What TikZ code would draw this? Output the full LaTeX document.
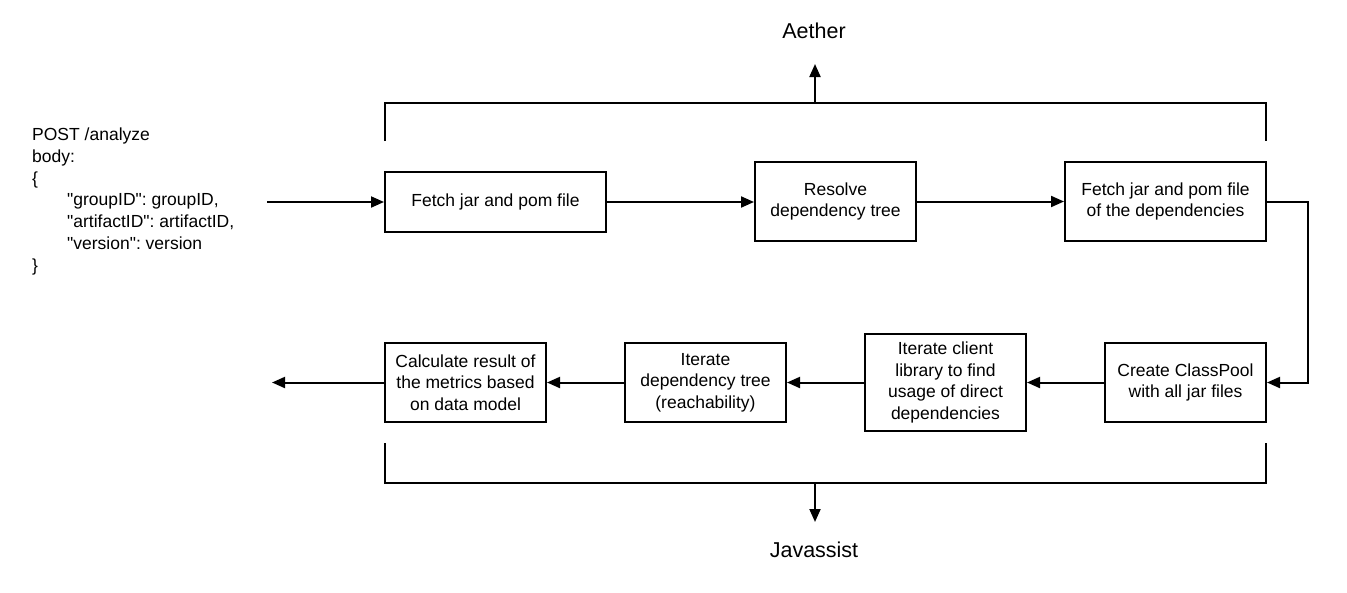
\documentclass[tikz,border=0pt]{standalone}
\usepackage{fontspec}
\setmainfont{Liberation Sans}[Ligatures=TeXOff]
\usetikzlibrary{arrows.meta}
\frenchspacing
\begin{document}
\begin{tikzpicture}[x=1pt,y=-1pt,
  every node/.style={font=\fontsize{17.5}{21.7}\selectfont\frenchspacing},
  big/.style={font=\fontsize{21.5}{25}\selectfont},
  box/.style={draw,line width=2pt,align=center,inner sep=0pt,minimum height=79pt,minimum width=161pt},
  conn/.style={line width=2pt,-{Triangle[length=13pt,width=11pt]}},
  brk/.style={line width=2pt}]
\useasboundingbox (0,0) rectangle (1347,592);
% left request text
\node[anchor=north west,align=left,inner sep=0pt] (req) at (32,128)
  {POST /analyze\\body:\\\{\\\hspace*{35pt}"groupID": groupID,\\\hspace*{35pt}"artifactID": artifactID,\\\hspace*{35pt}"version": version\\\}};
% boxes
\node[box,minimum width=221pt,minimum height=60pt] (b1) at (495.5,202) {Fetch jar and pom file};
\node[box] (b2) at (835.5,201.5) {Resolve\\dependency tree};
\node[box,minimum width=201pt] (b3) at (1165.5,201.5) {Fetch jar and pom file\\of the dependencies};
\node[box] (b4) at (1185.5,382.5) {Create ClassPool\\with all jar files};
\node[box,minimum height=97pt] (b5) at (945.5,382.5) {Iterate client\\library to find\\usage of direct\\dependencies};
\node[box] (b6) at (705.5,382.5) {Iterate\\dependency tree\\(reachability)};
\node[box] (b7) at (465.5,382.5) {Calculate result of\\the metrics based\\on data model};
% labels
\node[big] (aether) at (814,31) {Aether};
\node[big] (javassist) at (814,550) {Javassist};
% free ends
\coordinate (in) at (267,202);
\coordinate (out) at (272,382.5);
% flow connectors
\draw[conn] (in) -- (b1.west);
\draw[conn] (b1.east) -- (b2.west |- b1.east);
\draw[conn] (b2.east) -- (b3.west);
\draw[conn] (b3.east) -- ++(41,0) |- (b4.east);
\draw[conn] (b4.west) -- (b5.west -| b5.east);
\draw[conn] (b5.west) -- (b6.east);
\draw[conn] (b6.west) -- (b7.east);
\draw[conn] (b7.west) -- (out);
% Aether bracket
\coordinate (ab1) at (385,141);
\coordinate (ab2) at (1266,141);
\coordinate (atop) at (815,103);
\draw[brk] (ab1) |- (atop) -| (ab2);
\coordinate (atip) at (815,64);
\draw[conn] (atop) -- (atip);
% Javassist bracket
\coordinate (jb1) at (385,443);
\coordinate (jb2) at (1266,443);
\coordinate (jbot) at (815,483);
\coordinate (jtip) at (815,522);
\draw[brk] (jb1) |- (jbot) -| (jb2);
\draw[conn] (jbot) -- (jtip);
\end{tikzpicture}
\end{document}
